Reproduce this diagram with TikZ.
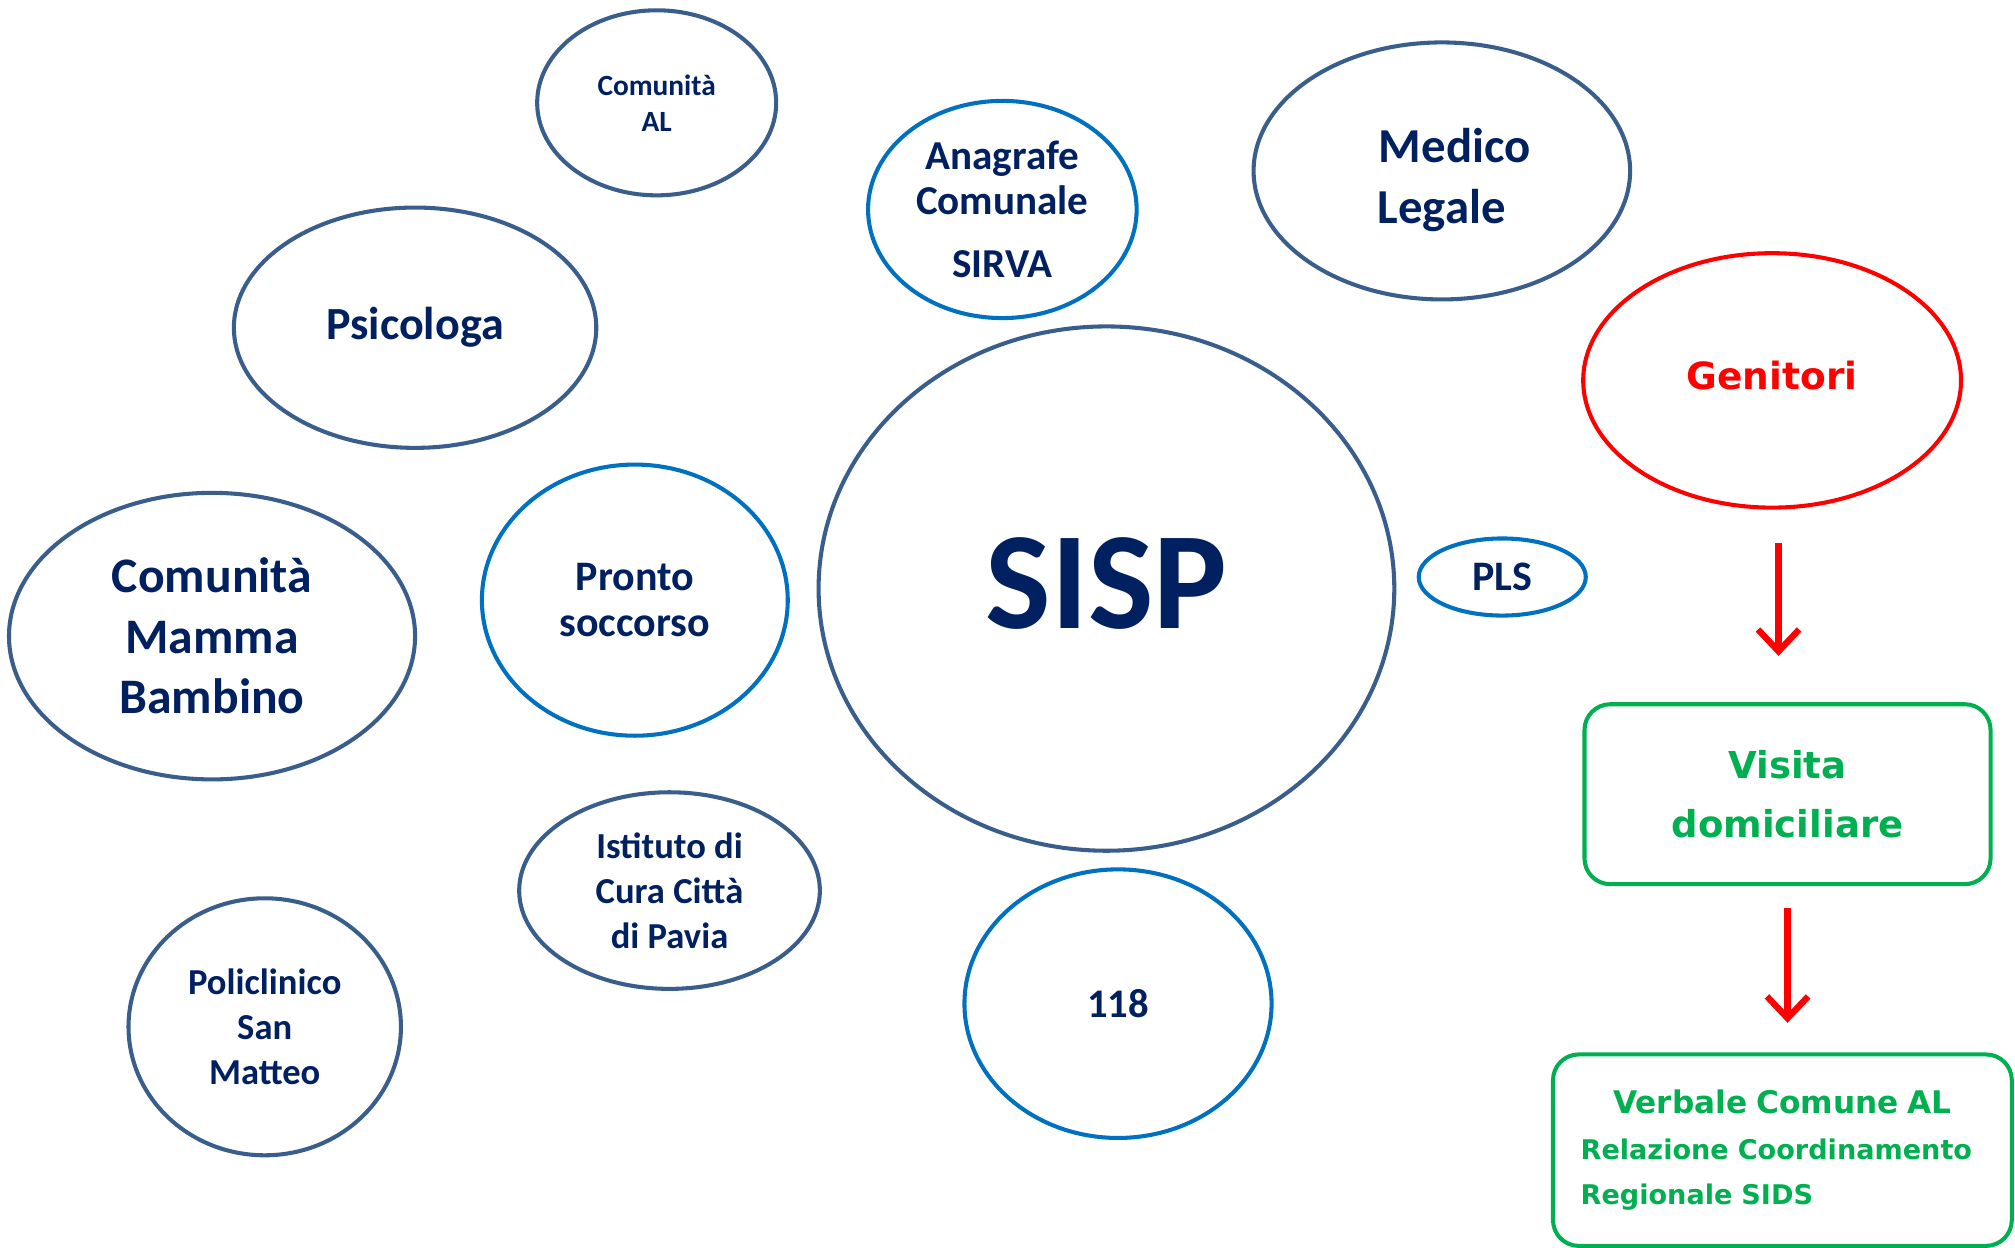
\documentclass[tikz,border=0pt]{standalone}
\usepackage{fontspec}
\setmainfont{Carlito}
\newfontfamily\widefont{DejaVu Sans}
\usetikzlibrary{shapes.geometric,arrows.meta}
\definecolor{navytext}{HTML}{002060}
\definecolor{slateline}{HTML}{3A5E8C}
\definecolor{bluline}{HTML}{0070C0}
\definecolor{redline}{HTML}{FF0000}
\definecolor{greenline}{HTML}{00B050}
\newcommand{\fsz}[2]{\fontsize{#1}{#2}\selectfont}

\begin{document}
\begin{tikzpicture}[x=0.1mm,y=-0.1mm,
  bubble/.style={ellipse, draw=slateline, line width=0.9pt, inner sep=0pt, align=center, text=navytext, font=\bfseries},
  bluebubble/.style={bubble, draw=bluline},
  greenbox/.style={draw=greenline, line width=0.9pt, rounded corners=2mm, text=greenline, inner sep=0pt},
  flow/.style={draw=redline, line width=1.4pt, -{Straight Barb[length=1.7mm,width=3.2mm]}}]
\useasboundingbox (0,0) rectangle (1568,971);
\node[bubble, minimum width=18.6mm, minimum height=14.4mm, font=\bfseries\fsz{6.5}{8}] (cal) at (511,80) {Comunità\\AL};
\node[bluebubble, minimum width=20.9mm, minimum height=16.9mm, font=\bfseries\fsz{9.1}{10}] (ana) at (780,163) {Anagrafe\\Comunale\\[1.4mm]SIRVA};
\node[bubble, minimum width=29.3mm, minimum height=20mm, font=\bfseries\fsz{10.8}{13.4}] (med) at (1122,133) {\rule{0pt}{4.1mm}\hspace*{2mm}Medico\\Legale};
\node[bubble, minimum width=28.2mm, minimum height=18.7mm, font=\bfseries\fsz{10.2}{12}] (psi) at (323,255) {Psicologa};
\node[bubble, draw=redline, minimum width=29.4mm, minimum height=19.8mm, text=redline, font=\widefont\bfseries\fsz{8.3}{10}] (gen) at (1379,296) {\raisebox{0.8mm}{Genitori}};
\node[bubble, minimum width=44.8mm, minimum height=40.8mm, font=\bfseries\fsz{30.7}{34}] (sisp) at (861,458) {\raisebox{0.8mm}{SISP}};
\node[bluebubble, minimum width=13mm, minimum height=6mm, font=\bfseries\fsz{9.3}{10}] (pls) at (1169,449) {PLS};
\node[bubble, minimum width=31.6mm, minimum height=22.3mm, font=\bfseries\fsz{11}{13.4}] (cmb) at (165,495) {Comunità\\Mamma\\Bambino};
\node[bluebubble, minimum width=23.8mm, minimum height=21.1mm, font=\bfseries\fsz{9.3}{10.2}] (pso) at (494,467) {Pronto\\soccorso};
\node[bubble, minimum width=23.4mm, minimum height=15.3mm, font=\bfseries\fsz{8.1}{10}] (icc) at (521,693) {Istituto di\\Cura Città\\di Pavia};
\node[bubble, minimum width=21.2mm, minimum height=20mm, font=\bfseries\fsz{8.1}{10}] (psm) at (206,799) {Policlinico\\San\\Matteo};
\node[bluebubble, minimum width=23.9mm, minimum height=20.9mm, font=\bfseries\fsz{9}{10}] (nue) at (870,781) {118};
\node[greenbox, minimum width=31.6mm, minimum height=14mm, align=center, font=\widefont\bfseries\fsz{8.2}{13}] (vis) at (1391,618) {Visita\\domiciliare};
\node[greenbox, minimum width=35.7mm, minimum height=14.9mm, text width=31.4mm, align=left, font=\widefont\bfseries\fsz{6}{10}] (ver) at (1387,895) {\hfill{\fsz{6.9}{10}Verbale Comune AL}\hfill\null\\Relazione Coordinamento\\Regionale SIDS};
\draw[flow, shorten <=2.6mm, shorten >=3.6mm] ([xshift=-0.7mm]vis.north |- gen.south) -- ([xshift=-0.7mm]vis.north);
\draw[flow, shorten <=1.7mm, shorten >=2.3mm] (vis.south) -- (vis.south |- ver.north);
\end{tikzpicture}
\end{document}
